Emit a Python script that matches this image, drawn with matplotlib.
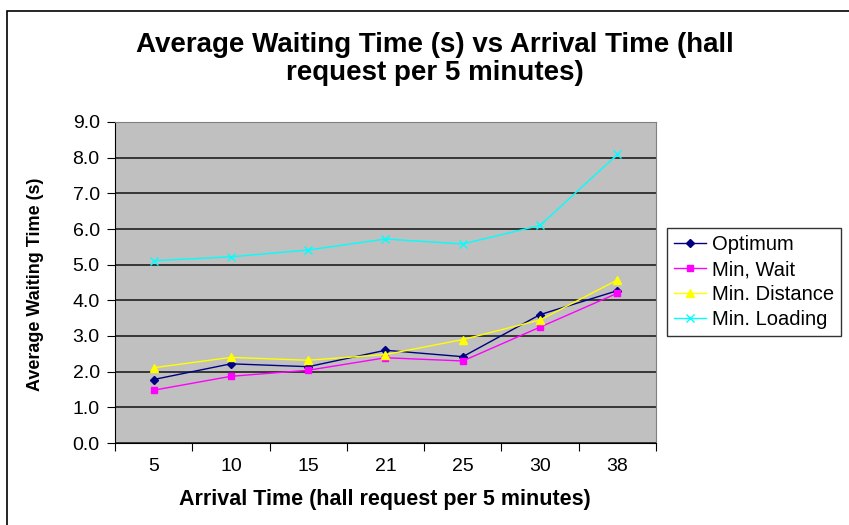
import numpy as np
import matplotlib
matplotlib.use("Agg")
import matplotlib.pyplot as plt
from matplotlib.patches import Rectangle

plt.rcParams['font.family'] = ['Liberation Sans', 'DejaVu Sans']

# --- data --- #
arrival = ["5", "10", "15", "21", "25", "30", "38"]
optimum = [1.78, 2.22, 2.14, 2.60, 2.42, 3.60, 4.27]
min_wait = [1.48, 1.87, 2.04, 2.39, 2.30, 3.25, 4.20]
min_distance = [2.11, 2.40, 2.32, 2.48, 2.90, 3.45, 4.57]
min_loading = [5.11, 5.22, 5.41, 5.72, 5.58, 6.10, 8.09]
y_ticks = [0.0, 1.0, 2.0, 3.0, 4.0, 5.0, 6.0, 7.0, 8.0, 9.0]

fig = plt.figure(figsize=(8.49, 5.25), dpi=100)
ax = fig.add_axes([115/849, 1 - 443/525, (656 - 115)/849, (443 - 122)/525])

# outer chart border (cut off on the right / bottom)
fig.patches.append(Rectangle((7/849, -0.1), 1.2, 1.1 - 11/525,
                             transform=fig.transFigure, fill=False,
                             edgecolor='black', linewidth=1.2))

ax.set_facecolor('#C0C0C0')
x = np.arange(len(arrival))

ax.plot(x, optimum, color='#000080', marker='D', markersize=4, linewidth=1, label='Optimum')
ax.plot(x, min_wait, color='#FF00FF', marker='s', markersize=5, linewidth=1, label='Min, Wait')
ax.plot(x, min_distance, color='#FFFF00', marker='^', markersize=6, linewidth=1, label='Min. Distance')
ax.plot(x, min_loading, color='#00FFFF', marker='x', markersize=6, linewidth=1, label='Min. Loading')

ax.set_xlim(-0.5, len(arrival) - 0.5)
ax.set_ylim(0, 9)
ax.set_yticks(y_ticks)
ax.set_yticklabels([f"{v:.1f}" for v in y_ticks], fontsize=14)
ax.yaxis.grid(True, color='#202020', linewidth=1.2)
ax.set_axisbelow(True)

# category axis: ticks on boundaries, labels in the middle
ax.set_xticks(np.arange(len(arrival) + 1) - 0.5)
ax.set_xticklabels([])
ax.set_xticks(x, minor=True)
ax.set_xticklabels(arrival, minor=True, fontsize=14)
ax.tick_params(axis='x', which='minor', length=0, pad=11)
ax.tick_params(axis='x', which='major', length=6, direction='out', color='black')
ax.tick_params(axis='y', length=6, direction='out', pad=5)

for side in ['top', 'right']:
    ax.spines[side].set_color('#808080')
for side in ['left', 'bottom']:
    ax.spines[side].set_color('black')

fig.text(435/849, 1 - 59/525, "Average Waiting Time (s) vs Arrival Time (hall\nrequest per 5 minutes)",
         ha='center', va='center', fontsize=20, fontweight='bold', linespacing=1.1)
fig.text(385/849, 1 - 500/525, "Arrival Time (hall request per 5 minutes)",
         ha='center', va='center', fontsize=15.5, fontweight='bold')
fig.text(36/849, 1 - 284/525, "Average Waiting Time (s)",
         ha='center', va='center', rotation=90, fontsize=13, fontweight='bold')

leg = fig.legend(loc='upper left', bbox_to_anchor=(667/849, 1 - 228/525),
                 fontsize=14.5, frameon=True, fancybox=False, edgecolor='black',
                 handlelength=1.6, handletextpad=0.3, borderpad=0.35, labelspacing=0.3,
                 borderaxespad=0)
leg.get_frame().set_linewidth(1.0)

fig.savefig("out.png", dpi=100)
